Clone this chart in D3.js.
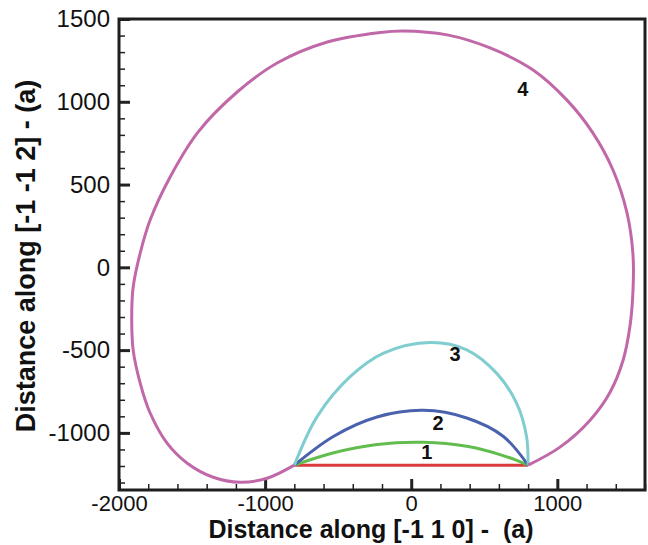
<!DOCTYPE html>
<html>
<head>
<meta charset="utf-8">
<script src="https://cdn.jsdelivr.net/npm/d3@7"></script>
<style>
  body { margin: 0; background: #fff; }
  text { font-family: "Liberation Sans", Arial, sans-serif; }
</style>
</head>
<body>
<div id="chart"></div>
<script>
const WIDTH = 648, HEIGHT = 545;
const PLOT = { left: 119, right: 645, top: 19, bottom: 490 };

// curve points, [x, y] in (a)
const curve1 = [[-800, -1195], [-530, -1120], [-234, -1070], [84, -1057], [380, -1081], [629, -1137], [800, -1195]];
const curve2 = [[-800, -1195], [-530, -1020], [-234, -904], [84, -864], [380, -910], [629, -1020], [800, -1195]];
const curve3 = [[-800, -1195], [-643, -900], [-416, -659], [-189, -518], [130, -454], [380, -498], [584, -639], [720, -819], [789, -1020], [800, -1195]];
const curve4 = [[800, -1195], [1018, -1086], [1224, -923], [1361, -754], [1450, -561], [1498, -350], [1518, -138],
  [1518, 74], [1477, 328], [1381, 588], [1244, 811], [1066, 1010], [834, 1192], [540, 1325], [246, 1404],
  [-55, 1428], [-211, 1419], [-574, 1361], [-918, 1234], [-1191, 1059], [-1459, 817], [-1650, 546], [-1787, 286],
  [-1855, 86], [-1903, -119], [-1913, -300], [-1903, -500], [-1855, -699], [-1787, -880], [-1671, -1062],
  [-1533, -1183], [-1355, -1268], [-1171, -1298], [-986, -1274], [-800, -1195]];
const baseLine = [[-800, -1195], [800, -1195]];

const curveLabels = [
  { text: "4", x: 763, y: 1080 },
  { text: "3", x: 300, y: -520 },
  { text: "2", x: 184, y: -938 },
  { text: "1", x: 107, y: -1115 }
];

const xMajor = [-2000, -1000, 0, 1000];
const xMinor = d3.range(-2000, 1601, 200);
const yMajor = [-1000, -500, 0, 500, 1000, 1500];
const yMinor = d3.range(-1300, 1501, 100);

const svg = d3.select("#chart").append("svg")
  .attr("width", WIDTH)
  .attr("height", HEIGHT);

const x = d3.scaleLinear().domain([-2000, 1600]).range([PLOT.left, PLOT.right]);
const y = d3.scaleLinear().domain([-1345, 1500]).range([PLOT.bottom, PLOT.top]);

const plain = d => String(d); // hyphen minus like the reference

// minor ticks
svg.append("g")
  .attr("transform", "translate(0," + PLOT.bottom + ")")
  .call(d3.axisBottom(x).tickValues(xMinor).tickSize(-6).tickFormat(""))
  .call(g => g.select(".domain").remove())
  .call(g => g.selectAll("line").attr("stroke", "#222").attr("stroke-width", 1.5));
svg.append("g")
  .attr("transform", "translate(" + PLOT.left + ",0)")
  .call(d3.axisLeft(y).tickValues(yMinor).tickSize(-6).tickFormat(""))
  .call(g => g.select(".domain").remove())
  .call(g => g.selectAll("line").attr("stroke", "#222").attr("stroke-width", 1.5));

// major ticks + labels
svg.append("g")
  .attr("transform", "translate(0," + PLOT.bottom + ")")
  .call(d3.axisBottom(x).tickValues(xMajor).tickSize(-11).tickPadding(5).tickFormat(plain))
  .call(g => g.select(".domain").remove())
  .call(g => g.selectAll("line").attr("stroke", "#222").attr("stroke-width", 3))
  .call(g => g.selectAll("text").attr("fill", "#111").style("font-size", "22px")
    .style("font-family", "'Liberation Sans', Arial, sans-serif"));
svg.append("g")
  .attr("transform", "translate(" + PLOT.left + ",0)")
  .call(d3.axisLeft(y).tickValues(yMajor).tickSize(-11).tickPadding(9).tickFormat(plain))
  .call(g => g.select(".domain").remove())
  .call(g => g.selectAll("line").attr("stroke", "#222").attr("stroke-width", 3))
  .call(g => g.selectAll("text").attr("fill", "#111").style("font-size", "24px")
    .style("font-family", "'Liberation Sans', Arial, sans-serif"));

// frame
svg.append("rect")
  .attr("x", PLOT.left).attr("y", PLOT.top)
  .attr("width", PLOT.right - PLOT.left).attr("height", PLOT.bottom - PLOT.top)
  .attr("fill", "none").attr("stroke", "#1e1e1e").attr("stroke-width", 3);

const line = d3.line()
  .x(d => x(d[0]))
  .y(d => y(d[1]))
  .curve(d3.curveCatmullRom.alpha(0.5));

const series = [
  { data: baseLine, color: "#d93a3c" },
  { data: curve1, color: "#62bd4e" },
  { data: curve2, color: "#4a62ad" },
  { data: curve3, color: "#80cdd0" },
  { data: curve4, color: "#c068a8" }
];
svg.append("g").selectAll("path")
  .data(series)
  .join("path")
  .attr("d", d => line(d.data))
  .attr("fill", "none")
  .attr("stroke", d => d.color)
  .attr("stroke-width", 3);

svg.append("g").selectAll("text")
  .data(curveLabels)
  .join("text")
  .attr("x", d => x(d.x))
  .attr("y", d => y(d.y))
  .attr("text-anchor", "middle")
  .attr("dy", "0.36em")
  .style("font-size", "20px")
  .style("font-weight", "bold")
  .attr("fill", "#111")
  .text(d => d.text);

// axis titles
svg.append("text")
  .attr("x", 371).attr("y", 538)
  .attr("text-anchor", "middle")
  .style("font-size", "25px").style("font-weight", "bold")
  .attr("fill", "#111")
  .text("Distance along [-1 1 0] -\u00a0 (a)");
svg.append("text")
  .attr("transform", "translate(35,256) rotate(-90)")
  .attr("text-anchor", "middle")
  .style("font-size", "27px").style("font-weight", "bold")
  .attr("fill", "#111")
  .text("Distance along [-1 -1 2] - (a)");
</script>
</body>
</html>
